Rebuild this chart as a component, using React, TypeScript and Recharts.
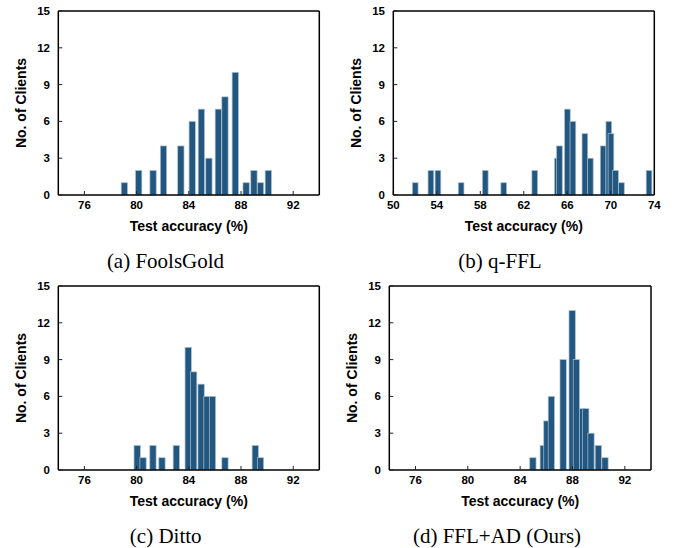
import React from 'react';
import { BarChart, Bar, XAxis, YAxis } from 'recharts';

// ---------- data ----------
const countTicks = [0, 3, 6, 9, 12, 15];
const accTicksWide = [76, 80, 84, 88, 92];
const accTicksQffl = [50, 54, 58, 62, 66, 70, 74];

const foolsGoldAcc = [79.07, 80.17, 81.27, 82.07, 83.4, 84.27, 84.97, 85.55, 86.27, 86.78, 87.57, 88.4, 89.0, 89.5, 90.1];
const foolsGoldCount = [1, 2, 2, 4, 4, 6, 7, 3, 7, 8, 10, 1, 2, 1, 2];

const qfflAcc = [52.0, 53.44, 54.09, 56.22, 58.44, 60.14, 62.99, 65.07, 65.26, 65.99, 66.5, 67.6, 68.1, 69.28, 69.8, 70.0, 70.42, 70.96, 73.5];
const qfflCount = [1, 2, 2, 1, 2, 1, 2, 3, 4, 7, 6, 5, 3, 4, 6, 5, 2, 1, 2];

const dittoAcc = [80.05, 80.5, 81.26, 81.95, 83.05, 83.96, 84.38, 84.95, 85.4, 85.82, 86.78, 89.1, 89.5];
const dittoCount = [2, 1, 2, 1, 2, 10, 8, 7, 6, 6, 1, 2, 1];

const fflAdAcc = [84.96, 85.75, 86.03, 86.37, 87.27, 87.96, 88.28, 88.75, 89.0, 89.4, 89.96, 90.47];
const fflAdCount = [1, 2, 4, 6, 9, 13, 9, 5, 5, 3, 2, 1];

const captions = ['(a) FoolsGold', '(b) q-FFL', '(c) Ditto', '(d) FFL+AD (Ours)'];
const xTitle = 'Test accuracy (%)';
const yTitle = 'No. of Clients';

const toRows = (acc: number[], cnt: number[]) => acc.map((x, i) => ({ x, n: cnt[i] }));

// ---------- styles ----------
const SANS = '"Liberation Sans", Arial, Helvetica, sans-serif';
const SERIF = '"Liberation Serif", "Times New Roman", serif';
const BAR_FILL = '#23577f';
const BAR_EDGE = '#a9c0d2';

type PanelProps = {
  rows: { x: number; n: number }[];
  domain: [number, number];
  ticks: number[];
  barWidth: number;
  caption: string;
  left: number;
  top: number;
  width: number;
  yAxisWidth: number;
  marginRight: number;
  captionX: number;
};

const CHART_H = 275;
const PLOT_TOP = 11;
const PLOT_BOTTOM = 195;

function Panel(p: PanelProps) {
  const plotLeft = p.yAxisWidth;
  const plotRight = p.width - p.marginRight - 1;
  const plotMidX = (plotLeft + plotRight) / 2;
  const plotMidY = (PLOT_TOP + PLOT_BOTTOM) / 2;

  const shape = (s: any) => {
    const cx = s.x + s.width / 2;
    return (
      <rect
        x={cx - p.barWidth / 2}
        y={s.y}
        width={p.barWidth}
        height={s.height}
        fill={BAR_FILL}
        stroke={BAR_EDGE}
        strokeWidth={0.7}
      />
    );
  };

  const xLabel = () => (
    <g>
      <text
        x={plotMidX}
        y={PLOT_BOTTOM + 36}
        textAnchor="middle"
        fontFamily={SANS}
        fontWeight="bold"
        fontSize={14}
        fill="#000"
      >
        {xTitle}
      </text>
      <text
        x={p.captionX}
        y={PLOT_BOTTOM + 72.5}
        textAnchor="middle"
        fontFamily={SERIF}
        fontSize={21}
        fill="#000"
      >
        {p.caption}
      </text>
    </g>
  );

  const yLabel = () => (
    <text
      x={plotLeft - 37.3}
      y={plotMidY}
      transform={`rotate(-90 ${plotLeft - 37.3} ${plotMidY})`}
      textAnchor="middle"
      dominantBaseline="central"
      fontFamily={SANS}
      fontWeight="bold"
      fontSize={14}
      fill="#000"
    >
      {yTitle}
    </text>
  );

  const axisLine = { stroke: '#000', strokeWidth: 1.5 };
  const tickLine = { stroke: '#222', strokeWidth: 1 };
  const tickFont = { fill: '#000', fontSize: 11.5, fontWeight: 'bold', fontFamily: SANS };

  return (
    <div style={{ position: 'absolute', left: p.left, top: p.top }}>
      <BarChart
        width={p.width}
        height={CHART_H}
        data={p.rows}
        margin={{ top: PLOT_TOP - 1, right: p.marginRight, left: 0, bottom: 0 }}
      >
        <XAxis
          xAxisId="b"
          type="number"
          dataKey="x"
          domain={p.domain}
          ticks={p.ticks}
          interval={0}
          allowDataOverflow
          height={CHART_H - PLOT_BOTTOM}
          tickSize={-4}
          tickMargin={10}
          axisLine={axisLine}
          tickLine={tickLine}
          tick={tickFont}
          label={xLabel}
        />
        <XAxis
          xAxisId="t"
          orientation="top"
          type="number"
          dataKey="x"
          domain={p.domain}
          ticks={p.ticks}
          interval={0}
          allowDataOverflow
          height={1}
          tickSize={-4}
          axisLine={axisLine}
          tickLine={tickLine}
          tick={false}
        />
        <YAxis
          yAxisId="l"
          type="number"
          domain={[0, 15]}
          ticks={countTicks}
          interval={0}
          width={p.yAxisWidth}
          tickSize={-4}
          tickMargin={12.3}
          axisLine={axisLine}
          tickLine={tickLine}
          tick={tickFont}
          label={yLabel}
        />
        <YAxis
          yAxisId="r"
          orientation="right"
          type="number"
          domain={[0, 15]}
          ticks={countTicks}
          interval={0}
          width={1}
          tickSize={-4}
          axisLine={axisLine}
          tickLine={tickLine}
          tick={false}
        />
        <Bar xAxisId="b" yAxisId="l" dataKey="n" isAnimationActive={false} shape={shape} />
      </BarChart>
    </div>
  );
}

export default function App() {
  return (
    <div style={{ position: 'absolute', left: 0, top: 0, width: 681, height: 548, background: '#fff' }}>
      <Panel
        rows={toRows(foolsGoldAcc, foolsGoldCount)}
        domain={[74, 94]}
        ticks={accTicksWide}
        barWidth={6.3}
        caption={captions[0]}
        left={0}
        top={0}
        width={340}
        yAxisWidth={58.3}
        marginRight={19.7}
        captionX={165.5}
      />
      <Panel
        rows={toRows(qfflAcc, qfflCount)}
        domain={[50, 74]}
        ticks={accTicksQffl}
        barWidth={5.7}
        caption={captions[1]}
        left={340}
        top={0}
        width={341}
        yAxisWidth={53.3}
        marginRight={25.7}
        captionX={160}
      />
      <Panel
        rows={toRows(dittoAcc, dittoCount)}
        domain={[74, 94]}
        ticks={accTicksWide}
        barWidth={6.3}
        caption={captions[2]}
        left={0}
        top={275}
        width={340}
        yAxisWidth={58.3}
        marginRight={19.7}
        captionX={165.7}
      />
      <Panel
        rows={toRows(fflAdAcc, fflAdCount)}
        domain={[74, 94]}
        ticks={accTicksWide}
        barWidth={6.3}
        caption={captions[3]}
        left={340}
        top={275}
        width={341}
        yAxisWidth={49.3}
        marginRight={29}
        captionX={157}
      />
    </div>
  );
}
